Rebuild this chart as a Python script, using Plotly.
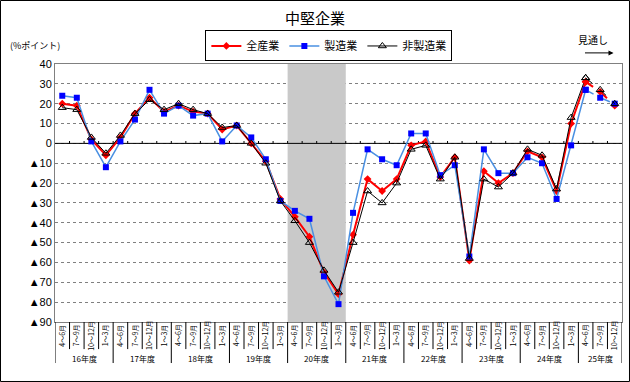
import plotly.graph_objects as go

months = ["4～6月", "7～9月", "10～12月", "1～3月"]
years = ["16年度", "17年度", "18年度", "19年度", "20年度", "21年度", "22年度", "23年度", "24年度", "25年度"]
months_per_year = [4, 4, 4, 4, 4, 4, 4, 4, 4, 3]

all_ind = [20, 19, 2, -6, 3, 15, 23, 16, 19, 16, 15, 7, 9, 0, -9, -28, -37, -47, -65, -76,
           -46, -18, -24, -18, -1, 1, -17, -7, -59, -14, -20, -15, -4, -7, -24, 10, 31, 26, 19]
mfg = [24, 23, 1, -12, 1, 12, 27, 15, 19, 14, 15, 1, 9, 3, -8, -29, -34, -38, -67, -81,
       -35, -3, -8, -11, 5, 5, -16, -11, -57, -3, -15, -15, -7, -10, -28, -1, 27, 23, 20]
nonmfg = [18, 17, 3, -5, 4, 15, 22, 17, 20, 17, 15, 8, 9, 0, -10, -29, -39, -50, -64, -75,
          -50, -24, -30, -20, -3, -1, -18, -7, -58, -18, -22, -15, -3, -6, -23, 13, 33, 27, 20]
forecast_start = 36
shaded_year = "20年度"

yticks = list(range(40, -100, -10))
yticktext = [str(v) if v >= 0 else "▲" + str(-v) for v in yticks]

cat_month = []
for yi, n in enumerate(months_per_year):
    for m in range(n):
        cat_month.append(months[m])
N = len(cat_month)
xs = list(range(N))

series = [
    ("全産業", all_ind, dict(color="#ff0000", width=2), dict(symbol="diamond", size=6, color="#ff0000")),
    ("製造業", mfg, dict(color="#4a90e2", width=1.5), dict(symbol="square", size=6, color="#0000ff")),
    ("非製造業", nonmfg, dict(color="#000000", width=1),
     dict(symbol="triangle-up-open", size=7, color="#000000", line=dict(width=1))),
]

fig = go.Figure()
for name, vals, ln, mk in series:
    fig.add_trace(go.Scatter(x=xs[:forecast_start + 1], y=vals[:forecast_start + 1], name=name,
                             mode="lines+markers", line=ln, marker=mk))
for name, vals, ln, mk in series:
    fig.add_trace(go.Scatter(x=xs[forecast_start:], y=vals[forecast_start:], name=name,
                             mode="lines+markers", line=dict(ln, dash="dash"), marker=mk,
                             showlegend=False))

shapes = []
si = years.index(shaded_year)
start = sum(months_per_year[:si])
shapes.append(dict(type="rect", xref="x", yref="y", x0=start - 0.5, x1=start + months_per_year[si] - 0.5,
                   y0=-90, y1=40, fillcolor="#c9c9c9", line=dict(width=0), layer="between"))
shapes.append(dict(type="line", xref="x", yref="y", x0=-0.5, x1=N - 0.5, y0=0, y1=0,
                   line=dict(color="black", width=1), layer="between"))
for i in range(N - 1):
    shapes.append(dict(type="line", xref="x", yref="y", x0=i + 0.5, x1=i + 0.5, y0=0, y1=1.2,
                       line=dict(color="black", width=1), layer="between"))
year_bounds = {-0.5}
acc = 0
for n in months_per_year:
    acc += n
    year_bounds.add(acc - 0.5)
for i in range(N + 1):
    b = i - 0.5
    shapes.append(dict(type="line", xref="x", yref="paper", x0=b, x1=b, y0=0,
                       y1=-0.159 if b in year_bounds else -0.105,
                       line=dict(color="black", width=1)))
shapes.append(dict(type="rect", xref="paper", yref="paper", x0=-0.0961, x1=1.0132, y0=-0.2306, y1=1.2461,
                   line=dict(color="black", width=1)))

annotations = []
for i in range(N):
    annotations.append(dict(x=i, y=-0.052, xref="x", yref="paper", text=cat_month[i], textangle=-90,
                            xanchor="center", yanchor="middle",
                            showarrow=False, font=dict(size=7, color="black",
                                                       family="Noto Sans CJK JP")))
acc = 0
for yname, n in zip(years, months_per_year):
    annotations.append(dict(x=acc + (n - 1) / 2, y=-0.14, xref="x", yref="paper", text=yname,
                            xanchor="center", yanchor="middle",
                            showarrow=False, font=dict(size=8, color="black", family="Noto Sans CJK JP")))
    acc += n
annotations.append(dict(x=-0.083, y=1.073, xref="paper", yref="paper", text="(%ポイント)",
                        xanchor="left", yanchor="middle",
                        showarrow=False, font=dict(size=9, color="black", family="Noto Sans CJK JP")))
annotations.append(dict(x=0.978, y=1.06, xref="paper", yref="paper", text="見通し",
                        xanchor="right", yanchor="bottom",
                        showarrow=False, font=dict(size=10, color="black", family="Noto Sans CJK JP")))
annotations.append(dict(x=0.985, y=1.043, xref="paper", yref="paper", ax=-30, ay=0, text="",
                        showarrow=True, arrowhead=2, arrowsize=1, arrowwidth=1, arrowcolor="black"))

fig.update_layout(
    width=630, height=382,
    margin=dict(l=55, r=8, t=64, b=60, autoexpand=False),
    paper_bgcolor="white", plot_bgcolor="white",
    title=dict(text="中堅企業", x=0.5, xanchor="center", y=0.952, yanchor="middle",
               font=dict(size=15, color="black", family="Noto Sans CJK JP")),
    legend=dict(orientation="h", x=0.483, xanchor="center", y=1.13, yanchor="top",
                bordercolor="black", borderwidth=1, bgcolor="white", itemwidth=30,
                font=dict(size=11, color="black", family="Noto Sans CJK JP"),
                tracegroupgap=0),
    shapes=shapes,
    annotations=annotations,
    showlegend=True,
)
fig.update_xaxes(range=[-0.5, N - 0.5], showticklabels=False, showgrid=False, zeroline=False,
                 showline=True, linecolor="#808080", linewidth=1, mirror=True, ticks="")
fig.update_yaxes(range=[-90, 40], tickvals=yticks, ticktext=yticktext, showgrid=True,
                 gridcolor="#808080", griddash="dot", gridwidth=1, zeroline=False,
                 showline=True, linecolor="#808080", linewidth=1, mirror=True, ticks="",
                 tickfont=dict(size=11, color="black", family="Liberation Sans, Arial"))

fig.write_html("out.html", config={"displayModeBar": False},
               post_script="document.body.style.margin='0';document.body.style.overflow='hidden';")
